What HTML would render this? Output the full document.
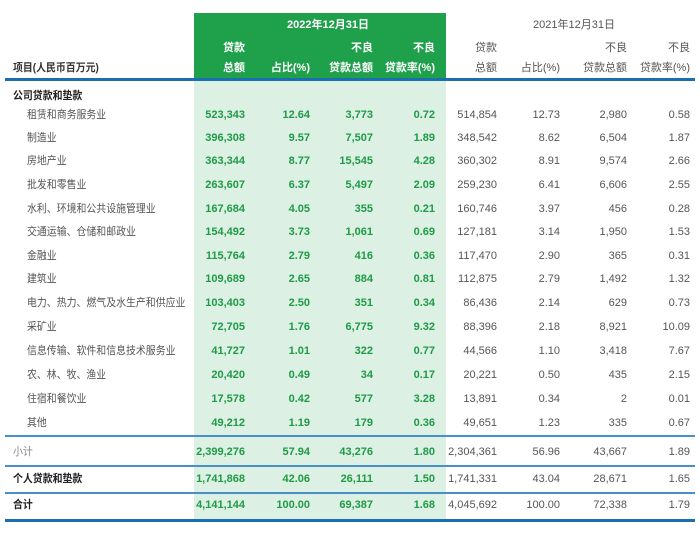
<!DOCTYPE html>
<html><head><meta charset="utf-8"><style>
body{margin:0;width:700px;height:535px;background:#fff;position:relative;overflow:hidden;font-family:"Liberation Sans","Noto Sans CJK SC",sans-serif;font-size:11px;color:#444}
div{position:absolute}
.t{white-space:nowrap;line-height:14px}
.r{text-align:right}
.g{color:#1f9a46;font-weight:bold}
.w{color:#fff;font-weight:bold}
.h{color:#555}
.lab{transform:scaleX(0.9);transform-origin:left center}
</style></head><body>
<div style="left:194px;top:13px;width:252px;height:67px;background:#1fa04b"></div>
<div style="left:194px;top:80px;width:252px;height:440px;background:#dcf0e4"></div>
<div style="left:5px;top:78px;width:690px;height:3px;background:#1a6fb3"></div>
<div style="left:5px;top:435px;width:690px;height:2px;background:#4a90c8"></div>
<div style="left:5px;top:465px;width:690px;height:2px;background:#4a90c8"></div>
<div style="left:5px;top:492px;width:690px;height:2px;background:#4a90c8"></div>
<div style="left:5px;top:519px;width:690px;height:3px;background:#1a6fb3"></div>
<script>
const labels=["公司贷款和垫款","租赁和商务服务业","制造业","房地产业","批发和零售业","水利、环境和公共设施管理业","交通运输、仓储和邮政业","金融业","建筑业","电力、热力、燃气及水生产和供应业","采矿业","信息传输、软件和信息技术服务业","农、林、牧、渔业","住宿和餐饮业","其他","小计","个人贷款和垫款","合计"];
const loans22=["","523,343","396,308","363,344","263,607","167,684","154,492","115,764","109,689","103,403","72,705","41,727","20,420","17,578","49,212","2,399,276","1,741,868","4,141,144"];
const pct22=["","12.64","9.57","8.77","6.37","4.05","3.73","2.79","2.65","2.50","1.76","1.01","0.49","0.42","1.19","57.94","42.06","100.00"];
const npl22=["","3,773","7,507","15,545","5,497","355","1,061","416","884","351","6,775","322","34","577","179","43,276","26,111","69,387"];
const rate22=["","0.72","1.89","4.28","2.09","0.21","0.69","0.36","0.81","0.34","9.32","0.77","0.17","3.28","0.36","1.80","1.50","1.68"];
const loans21=["","514,854","348,542","360,302","259,230","160,746","127,181","117,470","112,875","86,436","88,396","44,566","20,221","13,891","49,651","2,304,361","1,741,331","4,045,692"];
const pct21=["","12.73","8.62","8.91","6.41","3.97","3.14","2.90","2.79","2.14","2.18","1.10","0.50","0.34","1.23","56.96","43.04","100.00"];
const npl21=["","2,980","6,504","9,574","6,606","456","1,950","365","1,492","629","8,921","3,418","435","2","335","43,667","28,671","72,338"];
const rate21=["","0.58","1.87","2.66","2.55","0.28","1.53","0.31","1.32","0.73","10.09","7.67","2.15","0.01","0.67","1.89","1.65","1.79"];
const root=document.body;
function txt(s,x,y,cls,right,name){const d=document.createElement('div');d.className='t '+cls+(right?' r':'');d.textContent=s;
if(right){d.style.right=(700-x)+'px';}else d.style.left=x+'px';d.style.top=(y-7)+'px';


root.appendChild(d);}
txt('2022年12月31日',287,25,'w',false,'year-2022-title');
txt('2021年12月31日',533,25,'h',false,'year-2021-title');
txt('项目(人民币百万元)',13,68,'lab',false,'item-column-header');root.lastChild.style.fontWeight='bold';root.lastChild.style.color='#333';
const colsR=[245,310,373,435,497,560,627,690];
const h1=['贷款','','不良','不良','贷款','','不良','不良'];
const h2=['总额','占比(%)','贷款总额','贷款率(%)','总额','占比(%)','贷款总额','贷款率(%)'];
colsR.forEach((x,i)=>{const c=i<4?'w':'h';if(h1[i])txt(h1[i],x,48,c,true,'col-header-top-'+i);txt(h2[i],x,68,c,true,'col-header-'+i);});
const ys=[96,115,138,161,185,209,232,256,279,303,327,351,375,399,423,452,479,505];
const series=[loans22,pct22,npl22,rate22,loans21,pct21,npl21,rate21];
labels.forEach((l,i)=>{const y=ys[i];const bold=(i==0||i==16||i==17);const indent=(i>0&&i<15)?27:13;
txt(l,indent,y,'lab '+(bold?'':'h'),false,'row-label-'+i);if(bold){root.lastChild.style.fontWeight='bold';root.lastChild.style.color='#222';}
if(i==15)root.lastChild.style.color='#888';
series.forEach((s,j)=>{if(s[i])txt(s[i],colsR[j],y,j<4?'g':'h',true,'cell-'+i+'-'+j);});});
</script>
</body></html>
